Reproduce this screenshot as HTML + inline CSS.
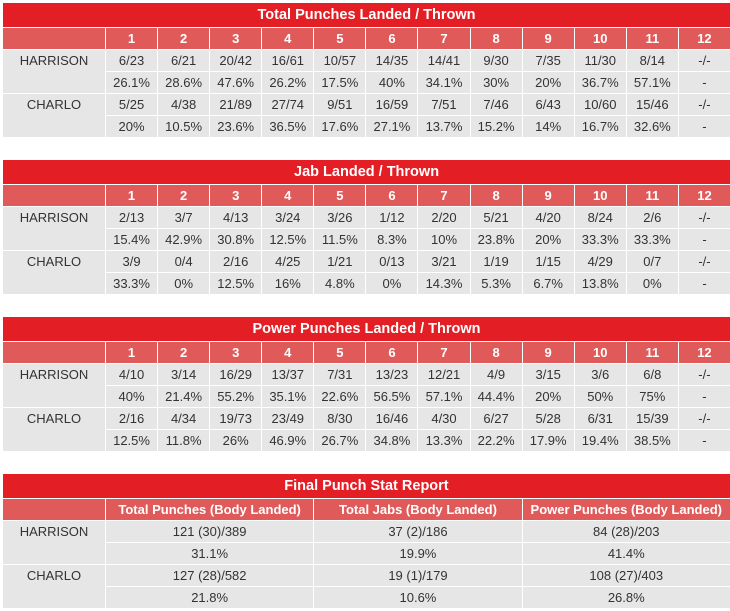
<!DOCTYPE html>
<html><head><meta charset="utf-8"><style>
body{margin:0;width:730px;height:611px;background:#fff;font-family:"Liberation Sans",sans-serif;overflow:hidden}
.tbl{position:absolute;left:2px;width:728px;border-collapse:collapse;table-layout:fixed}
.tbl td{border:1px solid #fff;height:21px;padding:0;text-align:center;font-size:13px;color:#333;background:#e6e6e6}
.tbl td.title{background:#e31e24;color:#fff;font-weight:bold;font-size:14.5px;height:24px}
.tbl td.hdr{background:#e05a5a;color:#fff;font-weight:bold;font-size:13px;height:21px}
.tbl td.lbl{vertical-align:top;padding-top:3px}
</style></head><body>
<div id="root"></div>
<script>
const rounds=["1","2","3","4","5","6","7","8","9","10","11","12"];
const totalH=["6/23","6/21","20/42","16/61","10/57","14/35","14/41","9/30","7/35","11/30","8/14","-/-"];
const totalHp=["26.1%","28.6%","47.6%","26.2%","17.5%","40%","34.1%","30%","20%","36.7%","57.1%","-"];
const totalC=["5/25","4/38","21/89","27/74","9/51","16/59","7/51","7/46","6/43","10/60","15/46","-/-"];
const totalCp=["20%","10.5%","23.6%","36.5%","17.6%","27.1%","13.7%","15.2%","14%","16.7%","32.6%","-"];
const jabH=["2/13","3/7","4/13","3/24","3/26","1/12","2/20","5/21","4/20","8/24","2/6","-/-"];
const jabHp=["15.4%","42.9%","30.8%","12.5%","11.5%","8.3%","10%","23.8%","20%","33.3%","33.3%","-"];
const jabC=["3/9","0/4","2/16","4/25","1/21","0/13","3/21","1/19","1/15","4/29","0/7","-/-"];
const jabCp=["33.3%","0%","12.5%","16%","4.8%","0%","14.3%","5.3%","6.7%","13.8%","0%","-"];
const powH=["4/10","3/14","16/29","13/37","7/31","13/23","12/21","4/9","3/15","3/6","6/8","-/-"];
const powHp=["40%","21.4%","55.2%","35.1%","22.6%","56.5%","57.1%","44.4%","20%","50%","75%","-"];
const powC=["2/16","4/34","19/73","23/49","8/30","16/46","4/30","6/27","5/28","6/31","15/39","-/-"];
const powCp=["12.5%","11.8%","26%","46.9%","26.7%","34.8%","13.3%","22.2%","17.9%","19.4%","38.5%","-"];
const finalHdr=["Total Punches (Body Landed)","Total Jabs (Body Landed)","Power Punches (Body Landed)"];
const finalH=["121 (30)/389","37 (2)/186","84 (28)/203"];
const finalHp=["31.1%","19.9%","41.4%"];
const finalC=["127 (28)/582","19 (1)/179","108 (27)/403"];
const finalCp=["21.8%","10.6%","26.8%"];

const root=document.getElementById('root');
function cell(tr,txt,cls,name){
  const td=document.createElement('td');
  td.textContent=txt; if(cls)td.className=cls;
  
  
  tr.appendChild(td); return td;
}
function build(top,title,heads,rows,labelW,colW,key){
  const t=document.createElement('table');t.className='tbl';t.style.top=top+'px';
  
  
  const cg=document.createElement('colgroup');
  const c0=document.createElement('col');c0.style.width=labelW+'px';cg.appendChild(c0);
  heads.forEach(()=>{const c=document.createElement('col');c.style.width=colW+'px';cg.appendChild(c);});
  t.appendChild(cg);
  let tr=document.createElement('tr');
  const tt=cell(tr,title,'title',key+'-title');tt.colSpan=heads.length+1;t.appendChild(tr);
  tr=document.createElement('tr');cell(tr,'','hdr','header-blank');
  heads.forEach(h=>cell(tr,h,'hdr','column-header'));t.appendChild(tr);
  rows.forEach((r,i)=>{
    tr=document.createElement('tr');
    if(i%2===0){const l=cell(tr,r[0],'lbl','fighter-label');l.rowSpan=2;}
    r[1].forEach(v=>cell(tr,v,'',i%2?'percent-cell':'count-cell'));
    t.appendChild(tr);
  });
  root.appendChild(t);
}
build(2,'Total Punches Landed / Thrown',rounds,[["HARRISON",totalH],["",totalHp],["CHARLO",totalC],["",totalCp]],103,52.08,'total-punches');
build(159,'Jab Landed / Thrown',rounds,[["HARRISON",jabH],["",jabHp],["CHARLO",jabC],["",jabCp]],103,52.08,'jabs');
build(316,'Power Punches Landed / Thrown',rounds,[["HARRISON",powH],["",powHp],["CHARLO",powC],["",powCp]],103,52.08,'power-punches');
build(473,'Final Punch Stat Report',finalHdr,[["HARRISON",finalH],["",finalHp],["CHARLO",finalC],["",finalCp]],103,208.3,'final-report');
</script>
</body></html>
